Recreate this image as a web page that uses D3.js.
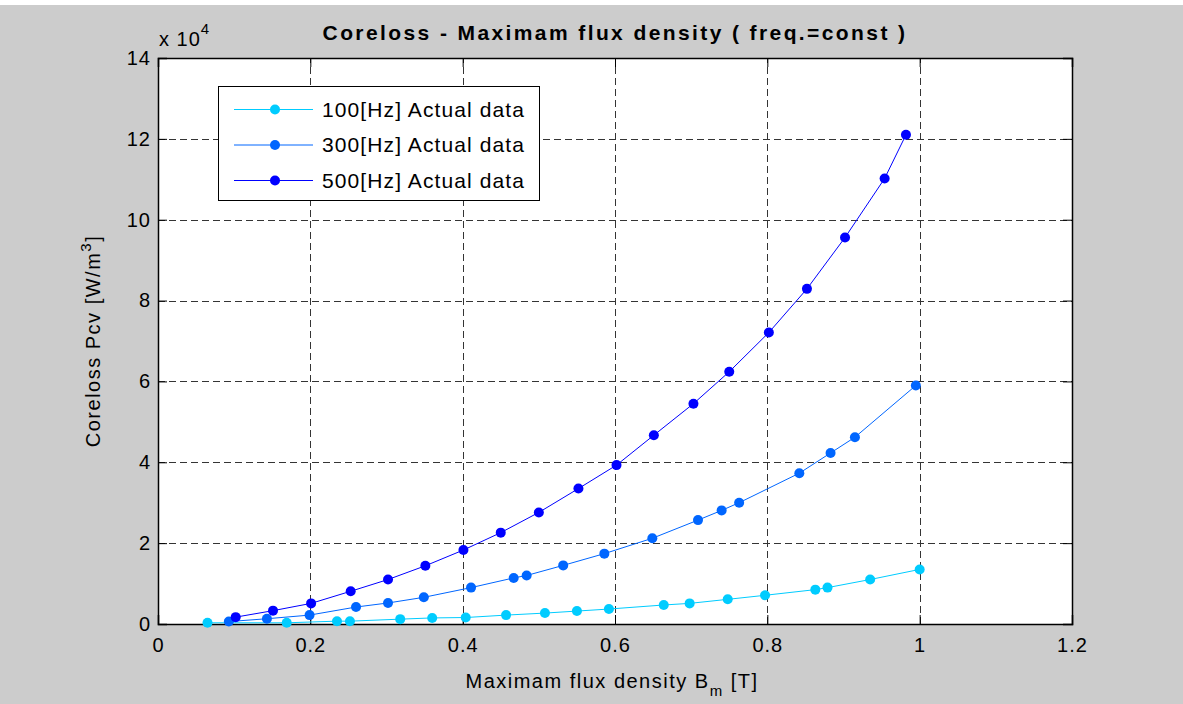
<!DOCTYPE html>
<html>
<head>
<meta charset="utf-8">
<script src="https://cdn.jsdelivr.net/npm/d3@7"></script>
<style>
  body { margin: 0; background: #cccccc; }
  svg { display: block; font-family: "Liberation Sans", Arial, sans-serif; }
</style>
</head>
<body>
<script>
// Data (B in T, P in 1e4 W/m^3)
var b100 = [0.065, 0.169, 0.235, 0.252, 0.318, 0.36, 0.404, 0.457, 0.508, 0.55, 0.592, 0.664, 0.698, 0.748, 0.797, 0.863, 0.879, 0.935, 1.0];
var p100 = [0.03, 0.03, 0.07, 0.07, 0.12, 0.15, 0.16, 0.22, 0.27, 0.32, 0.37, 0.47, 0.51, 0.61, 0.71, 0.85, 0.90, 1.10, 1.35];
var b300 = [0.093, 0.143, 0.199, 0.26, 0.302, 0.349, 0.411, 0.467, 0.484, 0.532, 0.586, 0.649, 0.709, 0.74, 0.763, 0.842, 0.883, 0.915, 0.995];
var p300 = [0.06, 0.13, 0.22, 0.42, 0.52, 0.66, 0.90, 1.14, 1.20, 1.45, 1.74, 2.12, 2.57, 2.81, 3.00, 3.73, 4.23, 4.62, 5.90];
var b500 = [0.102, 0.151, 0.201, 0.253, 0.302, 0.351, 0.401, 0.45, 0.50, 0.552, 0.602, 0.651, 0.703, 0.75, 0.802, 0.852, 0.902, 0.954, 0.982];
var p500 = [0.17, 0.33, 0.51, 0.81, 1.10, 1.44, 1.83, 2.26, 2.76, 3.35, 3.93, 4.67, 5.45, 6.24, 7.21, 8.29, 9.56, 11.02, 12.10];

var seriesNames = ["100[Hz] Actual data", "300[Hz] Actual data", "500[Hz] Actual data"];
var seriesColors = ["#00ccff", "#0066ff", "#0000ff"];
var xTicks = [0, 0.2, 0.4, 0.6, 0.8, 1, 1.2];
var yTicks = [0, 2, 4, 6, 8, 10, 12, 14];

var W = 1183, H = 704;
var margin = {top: 58, left: 158, right: 111, bottom: 80};

var x = d3.scaleLinear().domain([0, 1.2]).range([margin.left, W - margin.right]);
var y = d3.scaleLinear().domain([0, 14]).range([H - margin.bottom, margin.top]);

var svg = d3.select("body").append("svg")
    .attr("width", W)
    .attr("height", H);

svg.append("rect").attr("width", W).attr("height", H).attr("fill", "#cccccc");
svg.append("rect").attr("width", W).attr("height", 5).attr("fill", "#ffffff");

// plot area
svg.append("rect")
    .attr("x", x(0)).attr("y", y(14))
    .attr("width", x(1.2) - x(0)).attr("height", y(0) - y(14))
    .attr("fill", "#ffffff");

// grid
var grid = svg.append("g").attr("stroke", "#111").attr("stroke-width", 1)
    .attr("stroke-dasharray", "7,4").attr("opacity", 0.85);
grid.selectAll(".gx").data(xTicks.slice(1, -1)).enter().append("line")
    .attr("x1", function(d) { return Math.round(x(d)) + 0.5; })
    .attr("x2", function(d) { return Math.round(x(d)) + 0.5; })
    .attr("y1", y(0)).attr("y2", y(14));
grid.selectAll(".gy").data(yTicks.slice(1, -1)).enter().append("line")
    .attr("y1", function(d) { return Math.round(y(d)) + 0.5; })
    .attr("y2", function(d) { return Math.round(y(d)) + 0.5; })
    .attr("x1", x(0)).attr("x2", x(1.2));

// axes with inside ticks
var axisFont = "20px";
var xAxis = svg.append("g")
    .attr("transform", "translate(0," + y(0) + ")")
    .call(d3.axisBottom(x).tickValues(xTicks).tickSize(-9).tickPadding(12)
        .tickFormat(function(d) { return d3.format("")(d); }));
var yAxis = svg.append("g")
    .attr("transform", "translate(" + x(0) + ",0)")
    .call(d3.axisLeft(y).tickValues(yTicks).tickSize(-9).tickPadding(7));
svg.append("g")
    .attr("transform", "translate(0," + y(14) + ")")
    .call(d3.axisTop(x).tickValues(xTicks).tickSize(-9).tickFormat(""));
svg.append("g")
    .attr("transform", "translate(" + x(1.2) + ",0)")
    .call(d3.axisRight(y).tickValues(yTicks).tickSize(-9).tickFormat(""));

svg.selectAll(".domain").attr("stroke", "#000").attr("stroke-width", 1.5);
svg.selectAll(".tick line").attr("stroke", "#000");
svg.selectAll(".tick text").attr("font-size", axisFont).attr("fill", "#000")
    .attr("letter-spacing", "1px")
    .attr("font-family", "Liberation Sans, Arial, sans-serif");
xAxis.selectAll(".tick text").attr("dy", "0.8em");

// series
var series = [
    {b: b100, p: p100},
    {b: b300, p: p300},
    {b: b500, p: p500}
];
var line = d3.line()
    .x(function(d) { return x(d[0]); })
    .y(function(d) { return y(d[1]); });

series.forEach(function(s, i) {
    var pts = s.b.map(function(v, k) { return [v, s.p[k]]; });
    svg.append("path")
        .datum(pts)
        .attr("fill", "none")
        .attr("stroke", seriesColors[i])
        .attr("stroke-width", 1)
        .attr("d", line);
    svg.append("g").selectAll("circle").data(pts).enter().append("circle")
        .attr("cx", function(d) { return x(d[0]); })
        .attr("cy", function(d) { return y(d[1]); })
        .attr("r", 5)
        .attr("fill", seriesColors[i]);
});

// legend
var legend = svg.append("g");
legend.append("rect")
    .attr("x", 218.5).attr("y", 86.5).attr("width", 321).attr("height", 114)
    .attr("fill", "#fff").attr("stroke", "#000").attr("stroke-width", 1);
seriesNames.forEach(function(name, i) {
    var ly = 109.5 + i * 35.5;
    legend.append("line")
        .attr("x1", 234).attr("x2", 313).attr("y1", ly).attr("y2", ly)
        .attr("stroke", seriesColors[i]).attr("stroke-width", 1);
    legend.append("circle")
        .attr("cx", 275).attr("cy", ly).attr("r", 5).attr("fill", seriesColors[i]);
    legend.append("text")
        .attr("x", 322).attr("y", ly + 7)
        .attr("font-size", "21px").attr("letter-spacing", "1.1px").attr("fill", "#000")
        .text(name);
});

// title
svg.append("text")
    .attr("x", 615).attr("y", 40)
    .attr("text-anchor", "middle")
    .attr("font-size", "21px").attr("font-weight", "bold")
    .attr("letter-spacing", "2.4px")
    .text("Coreloss - Maximam flux density ( freq.=const )");

// x 10^4
var exp = svg.append("text").attr("x", 159).attr("y", 46)
    .attr("font-size", "20px").attr("letter-spacing", "1px");
exp.append("tspan").text("x 10");
exp.append("tspan").attr("dy", -12).attr("font-size", "15px").text("4");

// x label
var xl = svg.append("text")
    .attr("x", 612).attr("y", 688)
    .attr("text-anchor", "middle")
    .attr("font-size", "20px").attr("letter-spacing", "1.5px");
xl.append("tspan").text("Maximam flux density B");
xl.append("tspan").attr("dy", 8).attr("font-size", "15px").text("m");
xl.append("tspan").attr("dy", -8).text(" [T]");

// y label
var yl = svg.append("text")
    .attr("transform", "translate(100," + ((y(0) + y(14)) / 2) + ") rotate(-90)")
    .attr("text-anchor", "middle")
    .attr("font-size", "20px").attr("letter-spacing", "1.5px");
yl.append("tspan").text("Coreloss Pcv [W/m");
yl.append("tspan").attr("dy", -9).attr("font-size", "15px").text("3");
yl.append("tspan").attr("dy", 9).text("]");
</script>
</body>
</html>
